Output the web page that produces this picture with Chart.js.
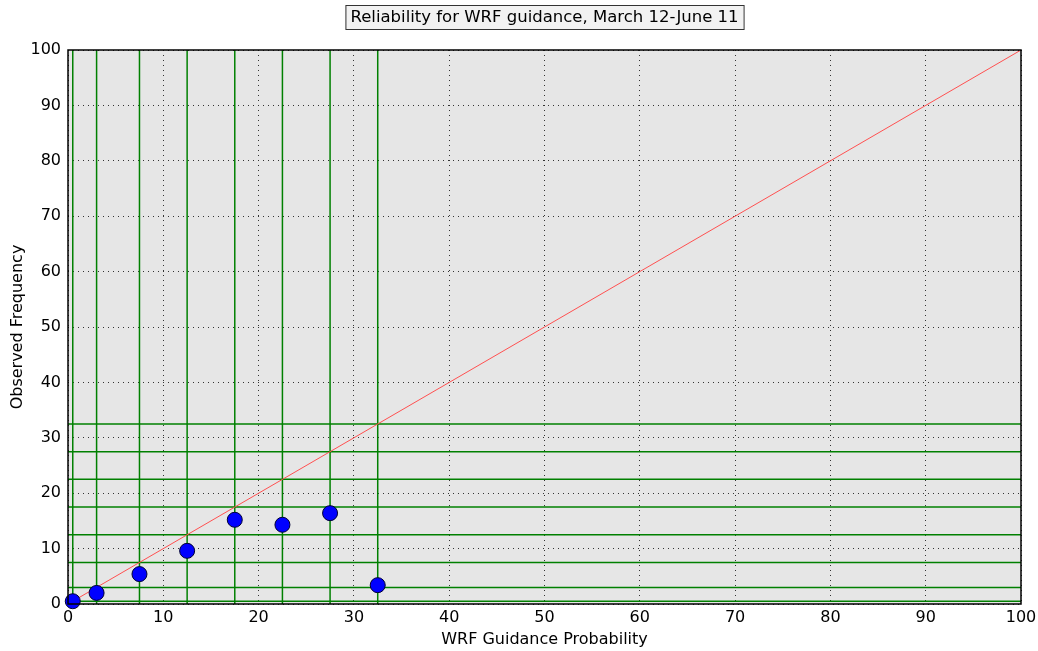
<!DOCTYPE html>
<html>
<head>
<meta charset="utf-8">
<script src="https://cdn.jsdelivr.net/npm/chart.js@4/dist/chart.umd.min.js"></script>
<style>
  html, body { margin: 0; padding: 0; background: #ffffff; }
  #wrap { width: 1038px; height: 651px; position: relative; }
</style>
</head>
<body>
<div id="wrap"><canvas id="rel"></canvas></div>
<script>
const titleText = 'Reliability for WRF guidance, March 12-June 11';

// bin edges drawn as green guide lines (both directions)
const binLines = [0.5, 3, 7.5, 12.5, 17.5, 22.5, 27.5, 32.5];
// forecast probability (bin centres) and observed frequency, in percent
const forecastProb = [0.5, 3, 7.5, 12.5, 17.5, 22.5, 27.5, 32.5];
const observedFreq = [0.5, 2.0, 5.4, 9.6, 15.2, 14.3, 16.4, 3.4];
// perfect reliability line
const diagonal = [0, 100];

const fontFamily = '"DejaVu Sans", sans-serif';

const frame = {
    id: 'frame',
    beforeDraw(chart) {
        const { ctx, chartArea: a } = chart;
        ctx.save();
        ctx.fillStyle = '#e6e6e6';
        ctx.fillRect(a.left, a.top, a.right - a.left, a.bottom - a.top);
        ctx.restore();
    },
    afterDraw(chart) {
        const { ctx, chartArea: a } = chart;
        ctx.save();
        ctx.strokeStyle = '#000000';
        ctx.lineWidth = 1.5;
        ctx.strokeRect(a.left, a.top, a.right - a.left, a.bottom - a.top);

        // boxed title
        ctx.font = '16.5px ' + fontFamily;
        const w = ctx.measureText(titleText).width;
        const cx = (a.left + a.right) / 2;
        const boxW = w + 10, boxH = 24;
        ctx.fillStyle = '#f2f2f2';
        ctx.fillRect(cx - boxW / 2, 5, boxW, boxH);
        ctx.lineWidth = 1;
        ctx.strokeStyle = '#333333';
        ctx.strokeRect(cx - boxW / 2 + 0.5, 5.5, boxW, boxH);
        ctx.fillStyle = '#000000';
        ctx.textAlign = 'center';
        ctx.textBaseline = 'middle';
        ctx.fillText(titleText, cx, 17.5);
        ctx.restore();
    }
};

const green = '#008000';
const verticals = binLines.map(v => ({
    type: 'line',
    data: [{ x: v, y: 0 }, { x: v, y: 100 }],
    borderColor: green,
    borderWidth: 1.5,
    pointRadius: 0,
    order: 3
}));
const horizontals = binLines.map(v => ({
    type: 'line',
    data: [{ x: 0, y: v }, { x: 100, y: v }],
    borderColor: green,
    borderWidth: 1.5,
    pointRadius: 0,
    order: 3
}));

new Chart(document.getElementById('rel'), {
    type: 'scatter',
    data: {
        datasets: [
            {
                data: forecastProb.map((p, i) => ({ x: p, y: observedFreq[i] })),
                backgroundColor: '#0000ff',
                borderColor: '#000033',
                borderWidth: 1,
                pointRadius: 7.5,
                pointHoverRadius: 7.5,
                clip: false,
                order: 0
            },
            {
                type: 'line',
                data: diagonal.map(v => ({ x: v, y: v })),
                borderColor: '#ff5050',
                borderWidth: 1,
                pointRadius: 0,
                order: 1
            },
            ...verticals,
            ...horizontals
        ]
    },
    options: {
        responsive: true,
        maintainAspectRatio: false,
        animation: false,
        layout: { padding: { top: 50, right: 17, bottom: 0, left: 0 } },
        plugins: {
            legend: { display: false },
            tooltip: { enabled: false }
        },
        scales: {
            x: {
                type: 'linear',
                min: 0,
                max: 100,
                afterFit: s => { s.height = 47; s.paddingLeft = 0; s.paddingRight = 0; },
                ticks: { stepSize: 10, padding: 4, color: '#000000', font: { family: fontFamily, size: 16 } },
                grid: { color: '#333333', lineWidth: 1, drawTicks: false },
                border: { display: false, dash: [1, 4] },
                title: {
                    display: true,
                    text: 'WRF Guidance Probability',
                    color: '#000000',
                    font: { family: fontFamily, size: 16 },
                    padding: { top: 0, bottom: 2 }
                }
            },
            y: {
                type: 'linear',
                min: 0,
                max: 100,
                afterFit: s => { s.width = 68; s.paddingTop = 0; s.paddingBottom = 0; },
                ticks: { stepSize: 10, padding: 7, color: '#000000', font: { family: fontFamily, size: 16 } },
                grid: { color: '#333333', lineWidth: 1, drawTicks: false },
                border: { display: false, dash: [1, 4] },
                title: {
                    display: true,
                    text: 'Observed Frequency',
                    color: '#000000',
                    font: { family: fontFamily, size: 16 },
                    padding: { top: 8, bottom: 0 }
                }
            }
        }
    },
    plugins: [frame]
});
</script>
</body>
</html>
